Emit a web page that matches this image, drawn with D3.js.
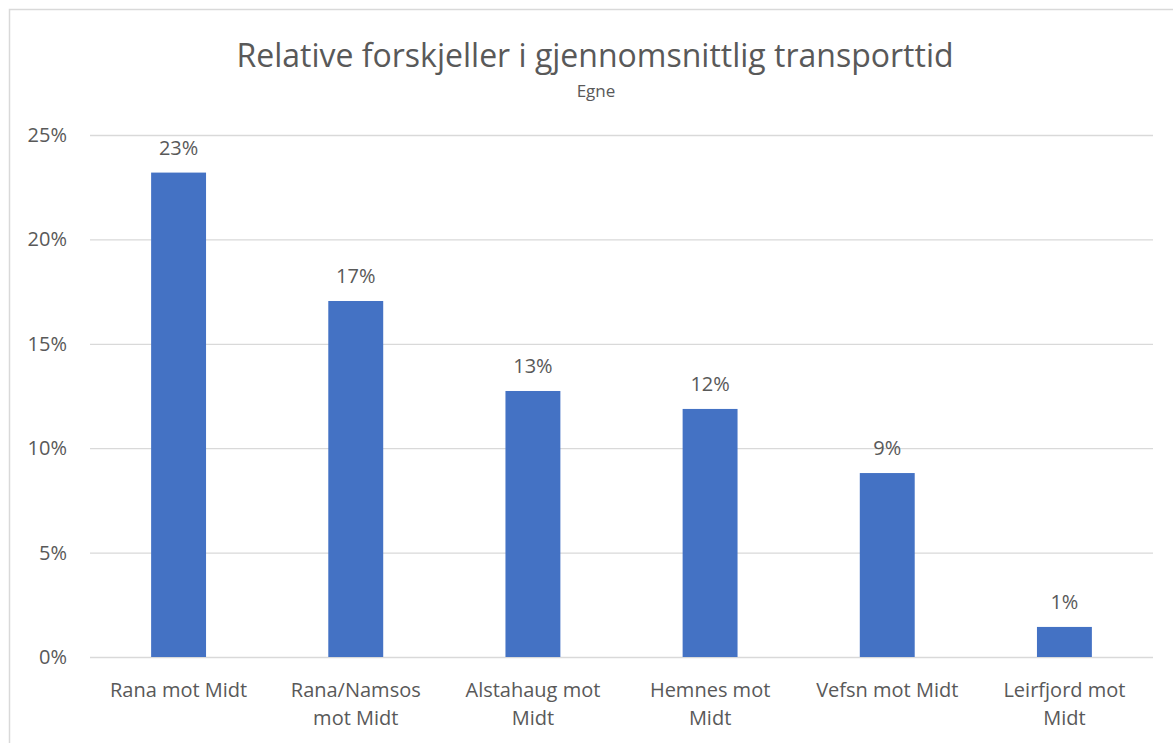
<!DOCTYPE html>
<html>
<head>
<meta charset="utf-8">
<title>Relative forskjeller</title>
<script src="https://d3js.org/d3.v7.min.js"></script>
<style>
  body { margin: 0; background: #fff; }
  text { font-family: "Open Sans", sans-serif; fill: #595959; }
</style>
</head>
<body>
<script>
// data
var categories = ["Rana mot Midt", "Rana/Namsos mot Midt", "Alstahaug mot Midt", "Hemnes mot Midt", "Vefsn mot Midt", "Leirfjord mot Midt"];
var labelLines = [["Rana mot Midt"], ["Rana/Namsos", "mot Midt"], ["Alstahaug mot", "Midt"], ["Hemnes mot", "Midt"], ["Vefsn mot Midt"], ["Leirfjord mot", "Midt"]];
var values = [0.232, 0.1705, 0.1274, 0.1188, 0.0881, 0.0144];
var yTicks = [0, 0.05, 0.10, 0.15, 0.20, 0.25];

var W = 1173, H = 743;
var margin = {top: 135, right: 20, bottom: 86, left: 90};
var width = 1153 - margin.left, height = 657 - margin.top;

var svg = d3.select("body").append("svg")
    .attr("width", W).attr("height", H);

// chart border
svg.append("rect")
    .attr("x", 9.5).attr("y", 9.5)
    .attr("width", W + 20).attr("height", H + 20)
    .attr("fill", "none").attr("stroke", "#d9d9d9").attr("stroke-width", 1.5);

svg.append("text")
    .attr("x", 595).attr("y", 67)
    .attr("text-anchor", "middle")
    .style("font-size", "32px")
    .text("Relative forskjeller i gjennomsnittlig transporttid");

svg.append("text")
    .attr("x", 596).attr("y", 97)
    .attr("text-anchor", "middle")
    .style("font-size", "17px")
    .text("Egne");

var g = svg.append("g").attr("transform", "translate(" + margin.left + "," + margin.top + ")");

var x = d3.scaleBand().domain(categories).range([0, width]).paddingInner(0.69).paddingOuter(0.345);
var y = d3.scaleLinear().domain([0, 0.25]).range([height, 0]);

// gridlines + y labels
var yAxis = g.append("g")
    .call(d3.axisLeft(y).tickValues(yTicks).tickSize(-width).tickPadding(23).tickFormat(d3.format(".0%")));
yAxis.select(".domain").remove();
yAxis.selectAll("line").attr("stroke", "#d9d9d9").attr("stroke-width", 1.3);
yAxis.selectAll("text").style("font-size", "20px").attr("fill", "#595959")
    .style("font-family", "'Open Sans', sans-serif");

g.selectAll(".bar")
    .data(values)
    .enter().append("rect")
    .attr("class", "bar")
    .attr("x", function(d, i) { return x(categories[i]); })
    .attr("y", function(d) { return y(d); })
    .attr("width", x.bandwidth())
    .attr("height", function(d) { return height - y(d); })
    .attr("fill", "#4472c4");

g.selectAll(".vlab")
    .data(values)
    .enter().append("text")
    .attr("class", "vlab")
    .attr("x", function(d, i) { return x(categories[i]) + x.bandwidth() / 2; })
    .attr("y", function(d) { return y(d) - 18; })
    .attr("text-anchor", "middle")
    .style("font-size", "20px")
    .text(function(d) { return Math.round(d * 100) + "%"; });

// category labels
var cl = g.selectAll(".clab")
    .data(labelLines)
    .enter().append("text")
    .attr("class", "clab")
    .attr("text-anchor", "middle")
    .attr("transform", function(d, i) { return "translate(" + (x(categories[i]) + x.bandwidth() / 2) + "," + (height + 40) + ")"; })
    .style("font-size", "20px");
cl.selectAll("tspan")
    .data(function(d) { return d; })
    .enter().append("tspan")
    .attr("x", 0)
    .attr("dy", function(d, i) { return i === 0 ? 0 : 28; })
    .text(function(d) { return d; });
</script>
</body>
</html>
